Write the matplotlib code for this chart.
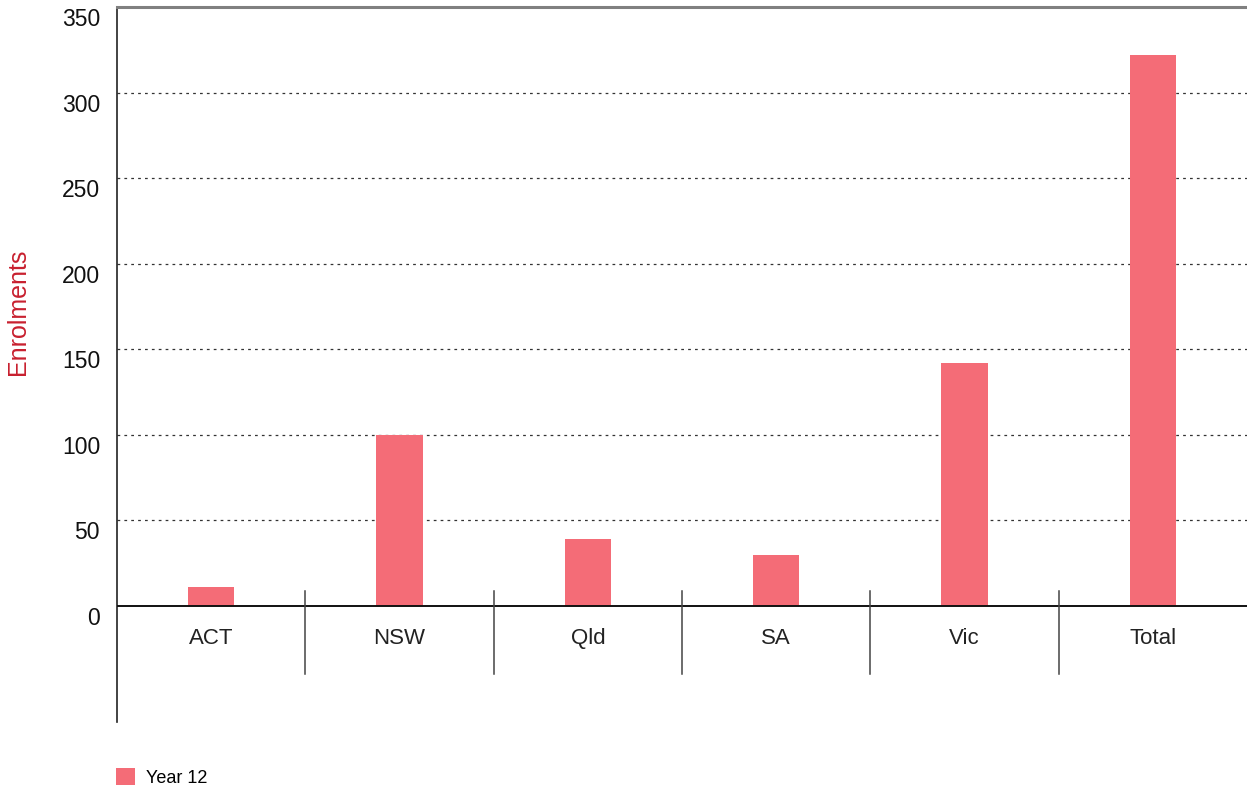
import matplotlib
matplotlib.use("Agg")
import matplotlib.pyplot as plt
import matplotlib.transforms as mtransforms

categories = ["ACT", "NSW", "Qld", "SA", "Vic", "Total"]
year12 = [11, 100, 39, 30, 142, 322]
yticks = [0, 50, 100, 150, 200, 250, 300, 350]
series_name = "Year 12"
ylabel = "Enrolments"

plt.rcParams['font.family'] = ['Liberation Sans', 'DejaVu Sans']

W, H = 1247, 791
fig = plt.figure(figsize=(W / 100, H / 100), dpi=100)
ax = fig.add_axes([117 / W, 1 - 722 / H, 1 - 117 / W, (722 - 7) / H])

bar_color = "#F46C77"
x = list(range(len(categories)))
ax.bar(x, year12, width=0.245, color=bar_color, label=series_name, zorder=3)

ax.set_xlim(-0.5, len(categories) - 0.5)
ax.set_ylim(-67.8, 350)

# grid lines
for v in yticks[1:-1]:
    ax.axhline(v, color="#333333", lw=0.9, ls=(0, (2.2, 3.3)), zorder=1)
ax.axhline(0, color="#111111", lw=1.4, zorder=4)

# spines
for s in ["right", "bottom"]:
    ax.spines[s].set_visible(False)
ax.spines["top"].set_color("#808080")
ax.spines["top"].set_linewidth(2.2)
ax.spines["left"].set_color("#222222")
ax.spines["left"].set_linewidth(1.2)

ax.set_xticks([])
ax.set_yticks([])

# y tick labels (placed slightly below their grid lines)
ytr = mtransforms.blended_transform_factory(ax.transAxes, ax.transData)
off = mtransforms.ScaledTranslation(-17 / 100, -12.5 / 100, fig.dpi_scale_trans)
for v in yticks:
    ax.text(0, v, str(v), transform=ytr + off, ha="right", va="center",
            fontsize=16.5, color="#111111")

# category labels and separators
for i, c in enumerate(categories):
    ax.text(i, -19, c, ha="center", va="center", fontsize=16, color="#222222")
for i in range(1, len(categories)):
    ax.plot([i - 0.5, i - 0.5], [8.8, -39.7], color="#444444", lw=1.1,
            zorder=4, clip_on=False)

# y label
fig.text(18 / W, 1 - 312 / H, ylabel, rotation=90, ha="center", va="center",
         fontsize=18, color="#C8202F")

# legend
fig.legend(loc="center left", bbox_to_anchor=(116 / W, 1 - 777.5 / H),
           frameon=False, fontsize=13, handlelength=1.05, handleheight=1.05,
           handletextpad=0.6, borderpad=0, borderaxespad=0)

fig.savefig("out.png", dpi=100)
